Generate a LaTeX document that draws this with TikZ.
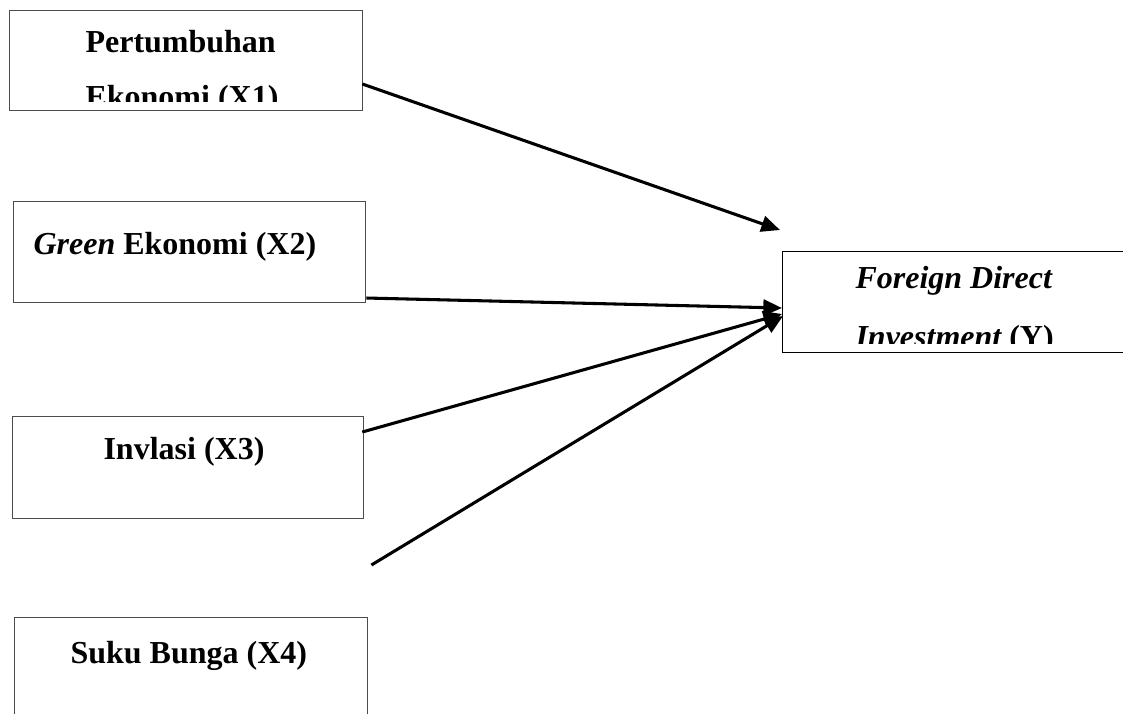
\documentclass[tikz,border=0pt]{standalone}
\usepackage{fontspec}
\setmainfont{Liberation Serif}
\usepackage{xcolor}
\usetikzlibrary{arrows.meta,calc}

\tikzset{
  varbox/.style={draw=black!70, line width=0.5pt, inner sep=0pt, anchor=north west},
  ybox/.style={draw=black, line width=0.5pt, inner sep=0pt, anchor=north west},
  lbl/.style={inner sep=0pt, anchor=base west, font=\fontsize{12}{14}\selectfont\bfseries},
  link/.style={line width=1.15pt, -{Triangle[length=7pt,width=6pt]}}
}

\begin{document}
\begin{tikzpicture}[x=0.375pt, y=-0.375pt]
\clip (0,0) rectangle (1123,713);
\fill[white] (0,0) rectangle (1123,713);

\node[varbox, minimum width=132.4pt, minimum height=37.5pt] (x1) at (9,10) {};
\node[varbox, minimum width=132pt, minimum height=37.9pt] (x2) at (13,201) {};
\node[varbox, minimum width=131.6pt, minimum height=38.25pt] (x3) at (12,416) {};
\node[varbox, minimum width=132.4pt, minimum height=45pt] (x4) at (14,617) {};
\node[ybox, minimum width=135pt, minimum height=37.9pt] (y) at (782,251) {};

\begin{scope}
\clip (x1.north west) rectangle ($(x1.south east)+(0,-10)$);
\node[lbl] (x1a) at (85,52) {Pertumbuhan};
\node[lbl] (x1b) at (85,107) {Ekonomi (X1)};
\end{scope}
\node[lbl] (x2a) at (33,254) {\itshape Green\upshape{} Ekonomi (X2)};
\node[lbl] (x3a) at (103,459) {Invlasi (X3)};
\node[lbl] (x4a) at (70,663) {Suku Bunga (X4)};
\begin{scope}
\clip (y.north west) rectangle ($(y.south east)+(0,-10)$);
\node[lbl] (ya) at (855,288) {\itshape Foreign Direct};
\node[lbl] (yb) at (855,347) {\itshape Investment\upshape{} (Y)};
\end{scope}

\coordinate (x4s) at ($(x4.north east)+(3,-52)$);

\draw[link] ($(x1.north east)+(-1,74)$) -- ($(y.north west)+(-2,-21)$);
\draw[link] ($(x2.north east)+(0,97)$) -- ($(y.north west)+(0,57)$);
\draw[link] ($(x3.north east)+(-2,16)$) -- ($(y.north west)+(0,63)$);
\draw[link] (x4s) -- ($(y.north west)+(1,65)$);
\end{tikzpicture}
\end{document}
